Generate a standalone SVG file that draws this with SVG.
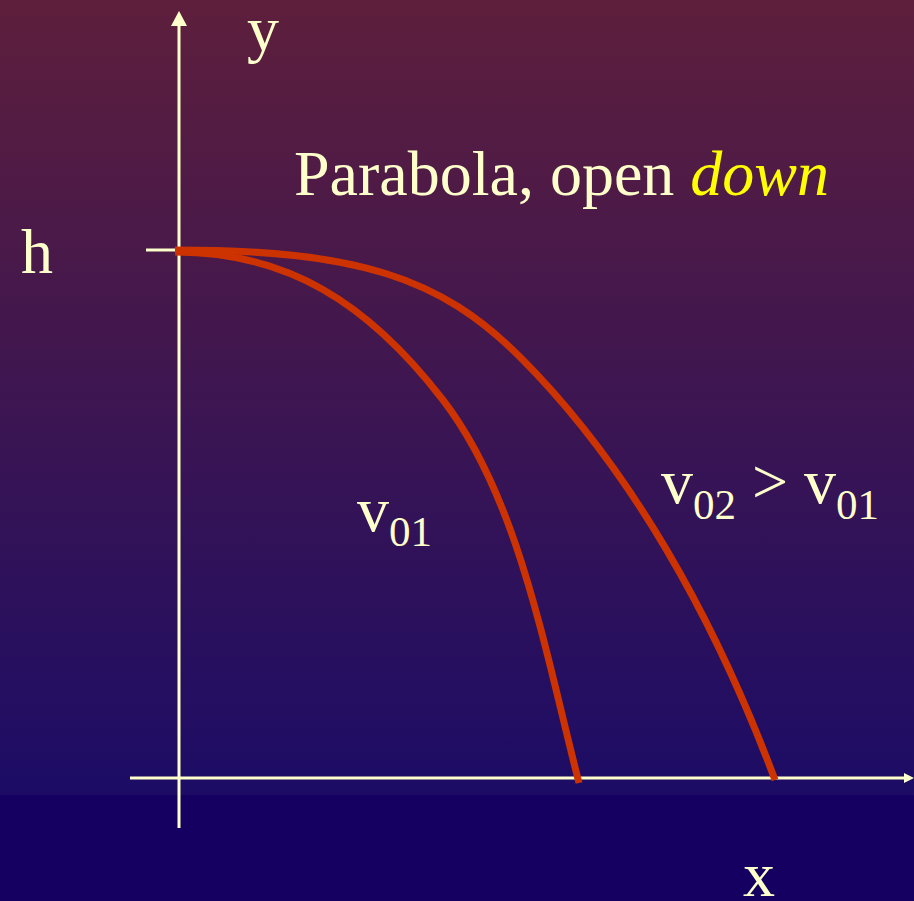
<svg xmlns="http://www.w3.org/2000/svg" width="914" height="901" viewBox="0 0 914 901">
  <defs>
    <linearGradient id="bg" x1="0" y1="0" x2="0" y2="795" gradientUnits="userSpaceOnUse">
      <stop offset="0" stop-color="#5e1f3c"/>
      <stop offset="1" stop-color="#1c0c66"/>
    </linearGradient>
    <style>
      .axis { stroke: #ffffcc; stroke-width: 3; fill: none; }
      .head { fill: #ffffcc; }
      .curve { stroke: #cc3300; stroke-width: 7; fill: none; stroke-linecap: butt; }
      .lbl { font-family: "Liberation Serif", "Times New Roman", serif; font-size: 64px; fill: #ffffcc; }
      .sub { font-size: 43px; }
      .em { fill: #ffff00; font-style: italic; }
    </style>
  </defs>
  <rect x="0" y="0" width="914" height="795" fill="url(#bg)"/>
  <rect x="0" y="795" width="914" height="106" fill="#150062"/>

  <g id="connectors">
    <g id="y-axis">
      <line class="axis" x1="179" y1="24" x2="179" y2="828"/>
      <polygon class="head" points="179,11 171,26 187,26"/>
    </g>
    <g id="x-axis">
      <line class="axis" x1="130" y1="778" x2="906" y2="778"/>
      <polygon class="head" points="914,778 904,773 904,783"/>
    </g>
    <line id="h-tick" class="axis" x1="146" y1="250" x2="176" y2="250"/>
  </g>

  <g id="curve-v01">
    <path class="curve" d="M175,252 C287,252 368,302.5 443,400 C518,497.5 544,646.5 579,783"/>
  </g>
  <g id="curve-v02">
    <path class="curve" d="M175,250 C357,250 440,277 520,357 C630,467 715,619 775,780"/>
  </g>

  <g id="label-y"><text class="lbl" x="247" y="50">y</text></g>
  <g id="label-h"><text class="lbl" x="21" y="273">h</text></g>
  <g id="label-x"><text class="lbl" x="743" y="896">x</text></g>
  <g id="title"><text class="lbl" x="294" y="195">Parabola, open <tspan class="em">down</tspan></text></g>
  <g id="label-v01"><text class="lbl" x="357" y="531">v<tspan class="sub" dy="15">01</tspan></text></g>
  <g id="label-v02"><text class="lbl" x="661" y="503">v<tspan class="sub" dy="16">02</tspan><tspan dy="-16"> &gt; v</tspan><tspan class="sub" dy="16">01</tspan></text></g>
</svg>
